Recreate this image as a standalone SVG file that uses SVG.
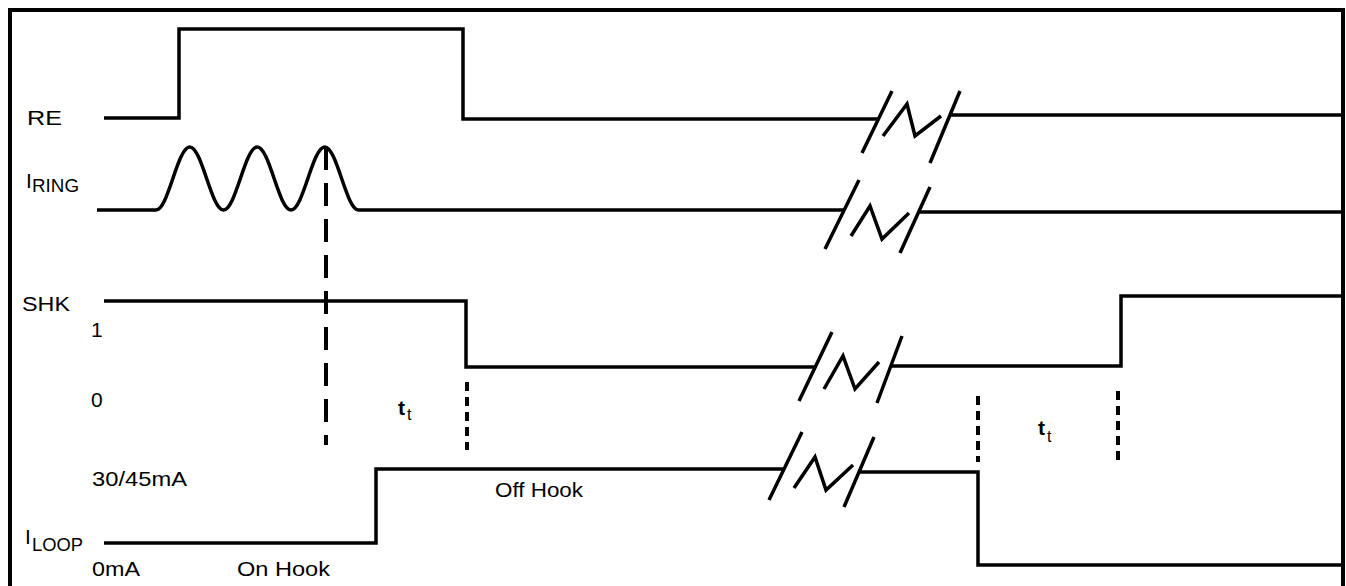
<svg xmlns="http://www.w3.org/2000/svg" width="1346" height="586" viewBox="0 0 1346 586">
<style>
.w{fill:none;stroke:#000;stroke-width:3.5;stroke-linejoin:miter;stroke-linecap:butt}
.b{fill:none;stroke:#000;stroke-width:4}
.dash{fill:none;stroke:#000;stroke-width:4;stroke-dasharray:23 13}
.dot{fill:none;stroke:#000;stroke-width:4;stroke-dasharray:9 6}
text{font-family:"Liberation Sans",Arial,sans-serif;font-size:21px;fill:#000}
.sub{font-size:18px}
.tb{font-weight:bold;font-size:21px}
.ts{font-size:16px}
</style>
<rect width="1346" height="586" fill="#fff"/>
<path class="b" d="M10,590 V10 H1343 V590"/>

<g id="re">
<text x="27" y="125" textLength="35" lengthAdjust="spacingAndGlyphs">RE</text>
<path class="w" d="M104,118 H179 V29 H463 V119 H878"/>
<path class="w" d="M950,115 H1345"/>
<path class="w" d="M862,153 L892,91 M883,136 L907,104 L915,136 L941,116 M930,163 L960,91"/>
</g>

<g id="iring">
<text x="26" y="188" font-size="22">I</text>
<text class="sub" x="32" y="192" textLength="47" lengthAdjust="spacingAndGlyphs">RING</text>
<path class="w" d="M97,210 H156 c12.29,0 21.46,-63 33.75,-63 c12.29,0 21.46,63 33.75,63 c12.29,0 21.46,-63 33.75,-63 c12.29,0 21.46,63 33.75,63 c12.29,0 21.46,-63 33.75,-63 c12.29,0 21.46,63 33.75,63 H844"/>
<path class="w" d="M919,212 H1345"/>
<path class="w" d="M825,249 L859,180 M851,236 L870,206 L882,239 L909,213 M900,253 L930,187"/>
</g>

<g id="shk">
<text x="22" y="311" textLength="48" lengthAdjust="spacingAndGlyphs">SHK</text>
<text x="91" y="337">1</text>
<text x="91" y="407">0</text>
<path class="w" d="M104,301 H466 V367 H816"/>
<path class="w" d="M891,366 H1121 V296 H1345"/>
<path class="w" d="M799,401 L832,332 M824,389 L843,356 L855,389 L879,362 M877,403 L902,336"/>
</g>

<g id="iloop">
<text x="92" y="486" textLength="95" lengthAdjust="spacingAndGlyphs">30/45mA</text>
<text x="25" y="544" font-size="22">I</text>
<text class="sub" x="32" y="551" textLength="51" lengthAdjust="spacingAndGlyphs">LOOP</text>
<text x="92" y="576" textLength="48" lengthAdjust="spacingAndGlyphs">0mA</text>
<text x="237" y="576" textLength="93" lengthAdjust="spacingAndGlyphs">On Hook</text>
<text x="495" y="497" textLength="88" lengthAdjust="spacingAndGlyphs">Off Hook</text>
<path class="w" d="M104,543 H376 V469 H785"/>
<path class="w" d="M859,472 H978 V565 H1345"/>
<path class="w" d="M769,500 L802,432 M794,488 L815,457 L826,490 L853,465 M844,507 L874,437"/>
</g>

<g id="markers">
<path class="dash" d="M326,147 V445"/>
<path class="dot" d="M467,382 V450"/>
<path class="dot" d="M978,396 V462"/>
<path class="dot" d="M1118,391 V462"/>
<text class="tb" x="398" y="415">t</text><text class="ts" x="407" y="420">t</text>
<text class="tb" x="1038" y="435">t</text><text class="ts" x="1047" y="442">t</text>
</g>
</svg>
